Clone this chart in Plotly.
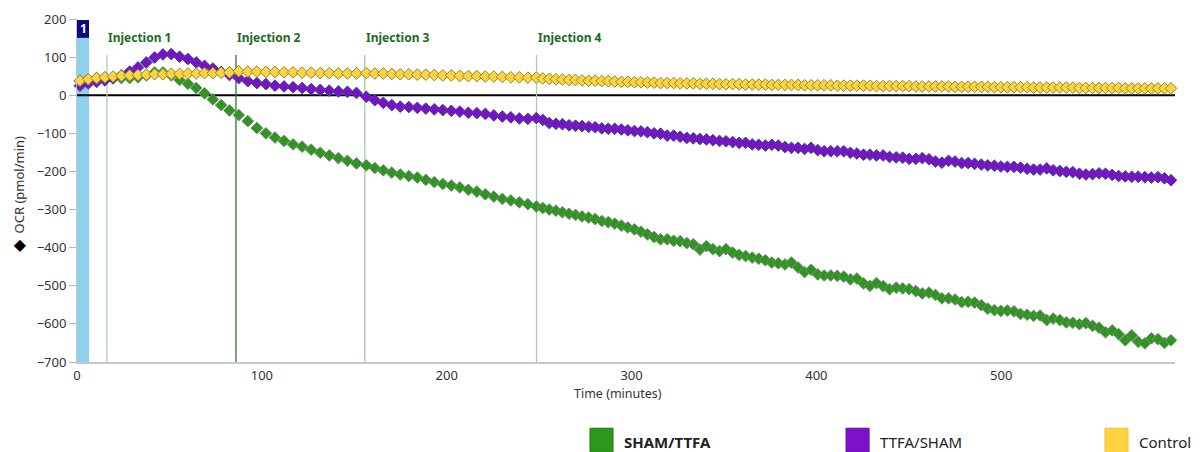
import plotly.graph_objects as go

# ---------------- data ----------------
time_min = [
    1.6, 6.1, 10.6, 15.1,
    19.5, 24.0, 28.5, 33.0, 37.5, 42.0, 46.5, 51.0, 55.5, 60.0, 64.5, 69.0, 73.5, 78.0, 82.5,
    87.5, 92.4, 97.3, 102.2, 107.1, 112.0, 116.9, 121.8, 126.7, 131.6, 136.5, 141.4, 146.3, 151.2,
    156.5, 161.1, 165.7, 170.3, 174.9, 179.5, 184.1, 188.7, 193.3, 197.9, 202.5, 207.1, 211.7, 216.3,
    220.9, 225.5, 230.1, 234.7, 239.3, 243.9, 248.5,
    252.0, 255.5, 259.1, 262.6, 266.2, 269.7, 273.2, 276.8, 280.3, 283.9,
    287.4, 290.9, 294.5, 298.0, 301.6, 305.1, 308.6, 312.2, 315.7, 319.3,
    322.8, 326.3, 329.9, 333.4, 337.0, 340.5, 344.0, 347.6, 351.1, 354.7,
    358.2, 361.7, 365.3, 368.8, 372.4, 375.9, 379.4, 383.0, 386.5, 390.1,
    393.6, 397.1, 400.7, 404.2, 407.8, 411.3, 414.8, 418.4, 421.9, 425.5,
    429.0, 432.5, 436.1, 439.6, 443.2, 446.7, 450.2, 453.8, 457.3, 460.9,
    464.4, 467.9, 471.5, 475.0, 478.6, 482.1, 485.6, 489.2, 492.7, 496.3,
    499.8, 503.3, 506.9, 510.4, 514.0, 517.5, 521.0, 524.6, 528.1, 531.7,
    535.2, 538.7, 542.3, 545.8, 549.4, 552.9, 556.4, 560.0, 563.5, 567.1,
    570.6, 574.1, 577.7, 581.2, 584.8, 588.3, 591.8,
]

sham_ttfa = [
    38, 42, 45, 46,
    44, 45, 45, 47, 52, 60, 60, 52, 40, 30, 19, 5, -11, -26, -40,
    -52, -68, -86, -100, -111, -120, -129, -135, -143, -151, -158, -165, -172, -179,
    -184, -191, -197, -203, -208, -212, -216, -222, -228, -233, -237, -242, -248, -253,
    -260, -266, -272, -276, -281, -286, -292,
    -296, -300, -303, -307, -311, -314, -318, -321, -325, -330,
    -333, -337, -342, -347, -352, -358, -365, -372, -378, -378,
    -382, -383, -388, -391, -405, -396, -404, -409, -404, -413,
    -419, -422, -426, -429, -433, -439, -441, -444, -439, -452,
    -464, -458, -470, -473, -473, -474, -476, -483, -481, -494,
    -500, -493, -501, -509, -505, -507, -509, -514, -520, -518,
    -524, -533, -533, -536, -543, -542, -544, -551, -560, -564,
    -566, -565, -567, -574, -576, -579, -578, -590, -586, -590,
    -596, -597, -601, -598, -605, -610, -622, -617, -627, -643,
    -630, -647, -651, -638, -640, -650, -643,
]

ttfa_sham = [
    25, 31, 35, 39,
    45, 52, 62, 73, 86, 99, 107, 108, 101, 95, 86, 77, 70, 61, 53,
    45, 37, 32, 29, 25, 23, 21, 19, 16, 14, 12, 10, 9, 6,
    -4, -13, -20, -26, -30, -31, -33, -35, -37, -39, -41, -43, -46, -47,
    -49, -53, -56, -58, -61, -62, -60,
    -65, -73, -75, -76, -79, -80, -81, -83, -84, -87,
    -88, -88, -90, -92, -94, -95, -97, -100, -101, -106,
    -106, -109, -112, -113, -115, -116, -118, -120, -121, -123,
    -125, -125, -129, -130, -132, -130, -132, -136, -138, -138,
    -141, -138, -144, -147, -147, -147, -147, -151, -153, -156,
    -156, -158, -158, -162, -163, -164, -167, -167, -165, -168,
    -174, -177, -172, -174, -178, -178, -180, -182, -184, -185,
    -187, -188, -188, -190, -193, -195, -195, -192, -197, -199,
    -201, -202, -206, -208, -207, -205, -206, -209, -212, -213,
    -214, -214, -215, -216, -215, -218, -223,
]

control = [
    38, 42, 45, 47,
    49, 51, 52, 53, 54, 55, 55, 56, 56, 57, 57, 58, 58, 59, 60,
    63, 62, 62, 61, 61, 60, 60, 59, 59, 58, 58, 57, 57, 57,
    58, 57, 57, 56, 55, 55, 54, 54, 53, 52, 52, 51, 50, 50,
    49, 49, 48, 47, 47, 46, 46,
    44, 43, 42, 41, 40, 40, 39, 38, 38, 37,
    37, 36, 35, 35, 34, 34, 33, 33, 32, 32,
    32, 31, 31, 31, 30, 30, 30, 29, 29, 29,
    29, 28, 28, 28, 28, 27, 27, 27, 27, 27,
    26, 26, 26, 26, 26, 25, 25, 25, 25, 25,
    25, 24, 24, 24, 24, 24, 24, 23, 23, 23,
    23, 23, 23, 22, 22, 22, 22, 22, 22, 21,
    21, 21, 21, 21, 21, 20, 20, 20, 20, 20,
    20, 20, 19, 19, 19, 19, 19, 19, 19, 18,
    18, 18, 18, 18, 18, 18, 18,
]

series_names = ["SHAM/TTFA", "TTFA/SHAM", "Control"]
series_colors = ["#2d961e", "#7a10c8", "#ffd240"]
series_edges = ["#7a8a7a", "#3c4a8c", "#8c8a2c"]

injection_labels = ["Injection 1", "Injection 2", "Injection 3", "Injection 4"]
injection_times = [16.2, 86.0, 155.7, 248.6]
injection_colors = ["#a8d0a0", "#2a7a2a", "#a8d0a0", "#a8d0a0"]

baseline_window = [0.0, 6.5]
x_ticks = [0, 100, 200, 300, 400, 500]
y_ticks = [200, 100, 0, -100, -200, -300, -400, -500, -600, -700]

FONT = "Noto Sans"

fig = go.Figure()

all_series = [sham_ttfa, ttfa_sham, control]
for name, vals, col, edge in zip(series_names, all_series, series_colors, series_edges):
    n = min(len(time_min), len(vals))
    fig.add_trace(go.Scatter(
        x=time_min[:n], y=vals[:n], mode="markers", name=name,
        marker=dict(symbol="diamond", size=9, color=col, line=dict(color=edge, width=1)),
        showlegend=False, cliponaxis=False,
    ))

shapes = []
annotations = []

# baseline window band
shapes.append(dict(type="rect", xref="x", yref="paper", x0=baseline_window[0], x1=baseline_window[1],
                   y0=0, y1=0.997, fillcolor="#8fd0ee", line=dict(width=0), layer="below"))
shapes.append(dict(type="rect", xref="x", yref="paper", x0=baseline_window[0], x1=baseline_window[1],
                   y0=0.945, y1=0.997, fillcolor="#0a0a78", line=dict(width=0), layer="above"))
annotations.append(dict(x=sum(baseline_window) / 2, y=0.971, xref="x", yref="paper", text="<b>1</b>",
                        showarrow=False, font=dict(color="white", size=12, family=FONT),
                        xanchor="center", yanchor="middle"))

# zero line
shapes.append(dict(type="line", xref="paper", yref="y", x0=0, x1=1, y0=0, y1=0,
                   line=dict(color="black", width=2), layer="below"))

# injections
for lab, t, c in zip(injection_labels, injection_times, injection_colors):
    shapes.append(dict(type="line", xref="x", yref="paper", x0=t, x1=t, y0=0, y1=0.895,
                       line=dict(color=c, width=1.3), layer="below"))
    annotations.append(dict(x=t, y=0.947, xref="x", yref="paper", text="<b>" + lab + "</b>",
                            showarrow=False, xanchor="left", yanchor="middle", xshift=-1,
                            font=dict(color="#1e6a1e", size=12, family=FONT)))

# axis titles
annotations.append(dict(x=0.4927, y=-0.092, xref="paper", yref="paper", text="Time (minutes)",
                        showarrow=False, xanchor="center", yanchor="middle",
                        font=dict(color="#333333", size=12.5, family=FONT)))
annotations.append(dict(x=-0.0535, y=0.49, xref="paper", yref="paper",
                        text="<span style='font-size:16px;color:black'>◆</span>  OCR (pmol/min)",
                        textangle=-90, showarrow=False, xanchor="center", yanchor="middle",
                        font=dict(color="#333333", size=13, family=FONT)))

# legend (drawn manually)
leg_x = [0.4672, 0.7004, 0.9362]
leg_text = ["<b>SHAM/TTFA</b>", "TTFA/SHAM", "Control"]
leg_border = ["#1f7a12", "#6a0cb0", "#f2c230"]
for lx, name, col, bcol in zip(leg_x, leg_text, series_colors, leg_border):
    shapes.append(dict(type="rect", xref="paper", yref="paper", x0=lx, x1=lx + 0.021,
                       y0=-0.263, y1=-0.193, fillcolor=col, line=dict(color=bcol, width=1)))
    annotations.append(dict(x=lx + 0.029, y=-0.232, xref="paper", yref="paper", text=name,
                            showarrow=False, xanchor="left", yanchor="middle",
                            font=dict(color="#222222", size=15, family=FONT)))

# page body has an 8px margin, so the figure is 8px smaller and the margins shifted
fig.update_layout(
    width=1195, height=444,
    margin=dict(l=69, r=28, t=11, b=90, autoexpand=False),
    paper_bgcolor="white", plot_bgcolor="white",
    font=dict(family=FONT, color="#333333"),
    shapes=shapes, annotations=annotations,
    xaxis=dict(range=[0, 594], tickvals=x_ticks, ticks="", showgrid=False, zeroline=False,
               showline=True, linecolor="#c4c8cc", linewidth=2, automargin=False,
               tickfont=dict(size=13, color="#333333", family=FONT)),
    yaxis=dict(range=[-700, 200], tickvals=y_ticks, ticks="outside", ticklen=7, tickcolor="#b8b8b8",
               showgrid=False, zeroline=False, showline=True, linecolor="#c4c8cc", linewidth=1,
               automargin=False,
               tickfont=dict(size=13, color="#333333", family=FONT)),
)

fig.write_html("out.html")
